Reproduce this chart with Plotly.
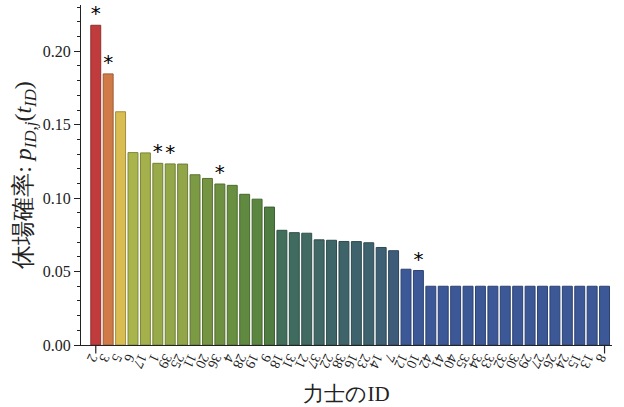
import plotly.graph_objects as go

ids = ["2","3","5","6","17","1","39","25","11","20","36","4","28","19","9","18","31","21","37","22",
       "38","16","23","14","7","12","10","42","41","40","35","34","33","32","30","29","27","26","24","15","13","8"]
probs = [0.2177,0.1846,0.1588,0.1310,0.1308,0.1237,0.1233,0.1232,0.1159,0.1134,0.1096,0.1087,0.1026,0.0993,
         0.0939,0.0781,0.0765,0.0761,0.0716,0.0713,0.0705,0.0704,0.0696,0.0664,0.0642,0.0516,0.0507] + [0.0400]*15
starred = ["2","3","1","39","36","10"]
colors = ["#c03c3c","#d07a48","#d9bd52","#a9b44c","#a4b04b","#98aa4a","#94a84a","#92a649","#7c9a44","#769543",
          "#6e9141","#699040","#608a40","#5b8640","#507e42","#426e5c","#406c60","#406a62","#3f6866","#3e6668",
          "#3e646a","#3e636c","#3e626e","#3e5f74","#3e5c7a"] + ["#3c5896"]*17

def darker(h, f=0.75):
    r, g, b = int(h[1:3],16), int(h[3:5],16), int(h[5:7],16)
    return "rgb(%d,%d,%d)" % (r*f, g*f, b*f)

xs = list(range(len(ids)))
fig = go.Figure()
fig.add_trace(go.Bar(x=xs, y=probs, marker=dict(color=colors, line=dict(color=[darker(c) for c in colors], width=1)),
                     width=0.8, showlegend=False))
sx = [xs[ids.index(s)] for s in starred]
sy = [probs[ids.index(s)] for s in starred]
fig.add_trace(go.Scatter(x=sx, y=sy, mode="text", text=["*"]*len(sx), textposition="top center",
                         textfont=dict(family="DejaVu Sans", size=20, color="black"), showlegend=False,
                         cliponaxis=False))

# end ticks on the category axis (first and last bar)
for xv in (xs[0], xs[-1]):
    fig.add_shape(type="line", xref="x", yref="paper", x0=xv, x1=xv, y0=0, y1=-0.025,
                  line=dict(color="#222", width=1.2))

serif = "Liberation Serif"
fig.update_layout(
    width=624, height=407, margin=dict(l=81, r=12, t=5, b=62),
    plot_bgcolor="white", paper_bgcolor="white",
    font=dict(family=serif, color="#222"),
)
fig.update_xaxes(tickmode="array", tickvals=xs, ticktext=ids, tickangle=115, automargin=False,
                 range=[-1.19, 41.6], showline=True, linecolor="#222", linewidth=1.3,
                 ticks="", ticklabelstandoff=0, tickfont=dict(size=14, family=serif), showgrid=False, zeroline=False,
                 title=dict(text="力士のID", font=dict(size=21, family=serif), standoff=16))
fig.update_yaxes(range=[0, 0.2315], tickvals=[0, 0.05, 0.10, 0.15, 0.20], automargin=False,
                 ticktext=["0.00","0.05","0.10","0.15","0.20"],
                 showline=True, linecolor="#222", linewidth=1.3, ticks="outside", ticklen=6, tickcolor="#222",
                 minor=dict(dtick=0.01, ticks="outside", ticklen=3, tickcolor="#222"),
                 tickfont=dict(size=16, family=serif), showgrid=False, zeroline=False,
                 title=dict(text="休場確率: <i>p</i><sub><i>ID,j</i></sub>(<i>t</i><sub><i>ID</i></sub>)",
                            font=dict(size=24, family=serif), standoff=4))
fig.write_html("out.html", config={"displayModeBar": False},
               post_script="document.body.style.margin='0';document.body.style.padding='0';")
